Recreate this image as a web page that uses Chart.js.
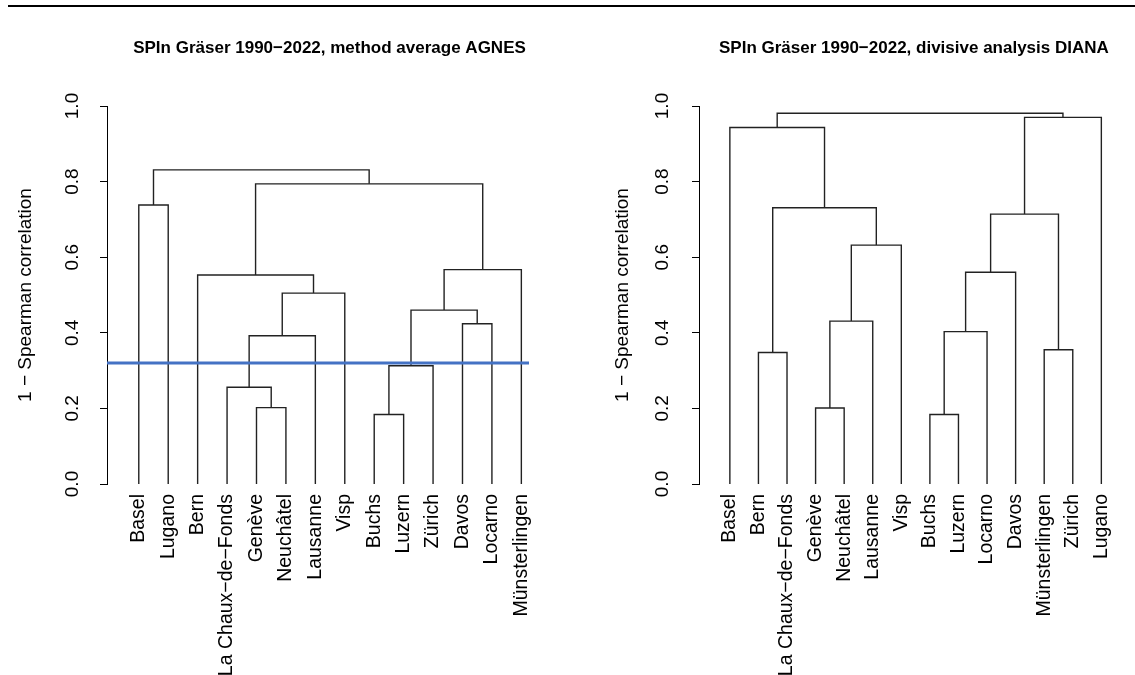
<!DOCTYPE html>
<html>
<head>
<meta charset="utf-8">
<script src="https://cdn.jsdelivr.net/npm/chart.js@4.4.1/dist/chart.umd.min.js"></script>
<style>
  html, body { margin: 0; padding: 0; background: #fff; }
  #wrap { position: relative; width: 1135px; height: 675px; overflow: hidden; }
  #wrap canvas { position: absolute; left: 0; top: 0; }
  #rule { position: absolute; left: 8px; top: 5px; width: 1127px; height: 2px; background: #000; }
</style>
</head>
<body>
<div id="wrap">
  <div id="rule"></div>
  <canvas id="agnes" width="1135" height="675"></canvas>
  <canvas id="diana" width="1135" height="675"></canvas>
</div>
<script>
// ---- data ----
const agnesTitle = 'SPIn Gräser 1990\u22122022, method average AGNES';
const dianaTitle = 'SPIn Gräser 1990\u22122022, divisive analysis DIANA';
const yAxisTitle = '1 \u2212 Spearman correlation';
const yTicks = [0, 0.2, 0.4, 0.6, 0.8, 1.0];

// leaf order (left to right)
const agnesLeaves = ['Basel', 'Lugano', 'Bern', 'La Chaux\u2212de\u2212Fonds', 'Genève', 'Neuchâtel',
  'Lausanne', 'Visp', 'Buchs', 'Luzern', 'Zürich', 'Davos', 'Locarno', 'Münsterlingen'];
// merges: [a, b, height]; string = leaf, number = earlier merge (1-based)
const agnesMerges = [
  ['Buchs', 'Luzern', 0.184],
  ['Genève', 'Neuchâtel', 0.202],
  ['La Chaux\u2212de\u2212Fonds', 2, 0.256],
  [1, 'Zürich', 0.313],
  [3, 'Lausanne', 0.392],
  ['Davos', 'Locarno', 0.424],
  [4, 6, 0.460],
  [5, 'Visp', 0.505],
  ['Bern', 8, 0.553],
  [7, 'Münsterlingen', 0.567],
  ['Basel', 'Lugano', 0.738],
  [9, 10, 0.794],
  [11, 12, 0.831]
];
const agnesCut = 0.32;

const dianaLeaves = ['Basel', 'Bern', 'La Chaux\u2212de\u2212Fonds', 'Genève', 'Neuchâtel', 'Lausanne',
  'Visp', 'Buchs', 'Luzern', 'Locarno', 'Davos', 'Münsterlingen', 'Zürich', 'Lugano'];
const dianaMerges = [
  ['Buchs', 'Luzern', 0.184],
  ['Genève', 'Neuchâtel', 0.201],
  ['Bern', 'La Chaux\u2212de\u2212Fonds', 0.348],
  ['Münsterlingen', 'Zürich', 0.355],
  [1, 'Locarno', 0.403],
  [2, 'Lausanne', 0.431],
  [5, 'Davos', 0.560],
  [6, 'Visp', 0.632],
  [7, 4, 0.714],
  [3, 8, 0.731],
  ['Basel', 10, 0.943],
  [9, 'Lugano', 0.970],
  [11, 12, 0.981]
];

// ---- helpers ----
const FONT = '"Liberation Sans", Arial, Helvetica, sans-serif';

function buildDatasets(leaves, merges) {
  const nodes = [];
  const ref = (v) => typeof v === 'string'
    ? { x: leaves.indexOf(v) + 1, y: 0 }
    : nodes[v - 1];
  return merges.map(([a, b, h]) => {
    const A = ref(a), B = ref(b);
    nodes.push({ x: (A.x + B.x) / 2, y: h });
    return {
      data: [{ x: A.x, y: A.y }, { x: A.x, y: h }, { x: B.x, y: h }, { x: B.x, y: B.y }],
      showLine: true, borderColor: '#222', borderWidth: 1.4,
      pointRadius: 0, pointHoverRadius: 0, tension: 0, fill: false
    };
  });
}

const rLabels = {
  id: 'rLabels',
  afterDraw(chart, args, o) {
    const { ctx, chartArea, scales: { y } } = chart;
    ctx.save();
    ctx.fillStyle = '#000';
    ctx.textAlign = 'center';
    ctx.textBaseline = 'middle';
    ctx.font = '19px ' + FONT;
    y.ticks.forEach((t, i) => {
      const py = y.getPixelForTick(i);
      ctx.save();
      ctx.translate(chartArea.left - o.tickOffset, py);
      ctx.rotate(-Math.PI / 2);
      ctx.fillText(t.value.toFixed(1), 0, 0);
      ctx.restore();
    });
    ctx.font = 'bold 17px ' + FONT;
    ctx.fillText(o.title, (chartArea.left + chartArea.right) / 2 + o.titleShift, o.titleY);
    ctx.restore();
  }
};

function makeChart(id, leaves, merges, title, cut, pad, yWidth, tickOffset, titleShift) {
  const xMin = -0.08, xMax = 14.26;
  const datasets = [];
  if (cut !== null) {
    datasets.push({
      data: [{ x: xMin, y: cut }, { x: xMax, y: cut }],
      showLine: true, borderColor: '#4472C4', borderWidth: 3,
      pointRadius: 0, pointHoverRadius: 0, fill: false
    });
  }
  datasets.push(...buildDatasets(leaves, merges));
  return new Chart(document.getElementById(id), {
    type: 'scatter',
    data: { datasets },
    plugins: [rLabels],
    options: {
      responsive: false,
      animation: false,
      devicePixelRatio: 1,
      events: [],
      layout: { padding: pad },
      plugins: {
        legend: { display: false },
        tooltip: { enabled: false },
        title: { display: false },
        rLabels: { title, titleShift, titleY: 48, tickOffset }
      },
      scales: {
        x: {
          type: 'linear', min: xMin, max: xMax,
          afterBuildTicks: (s) => { s.ticks = leaves.map((_, i) => ({ value: i + 1 })); },
          afterFit: (s) => { s.height = 191; },
          grid: { display: false, drawTicks: false, tickLength: 0 },
          border: { display: false },
          ticks: {
            autoSkip: false, minRotation: 90, maxRotation: 90, padding: 10,
            color: '#000', font: { family: FONT, size: 19.5 },
            callback: (v) => leaves[Math.round(v) - 1]
          }
        },
        y: {
          type: 'linear', min: 0, max: 1,
          afterBuildTicks: (s) => { s.ticks = yTicks.map(v => ({ value: v })); },
          afterFit: (s) => { s.width = yWidth; },
          grid: { display: true, drawOnChartArea: false, drawTicks: true, tickLength: 7, color: '#000', lineWidth: 1 },
          border: { display: true, color: '#000', width: 1 },
          ticks: { display: false },
          title: {
            display: true, text: yAxisTitle, color: '#000',
            font: { family: FONT, size: 19 }, padding: { top: 0, bottom: 0 }
          }
        }
      }
    }
  });
}

makeChart('agnes', agnesLeaves, agnesMerges, agnesTitle, agnesCut,
  { left: 14, right: 606, top: 106, bottom: 0 }, 93, 34, 11.5);
makeChart('diana', dianaLeaves, dianaMerges, dianaTitle, null,
  { left: 611, right: 14, top: 106, bottom: 0 }, 88, 36, 10);
</script>
</body>
</html>
